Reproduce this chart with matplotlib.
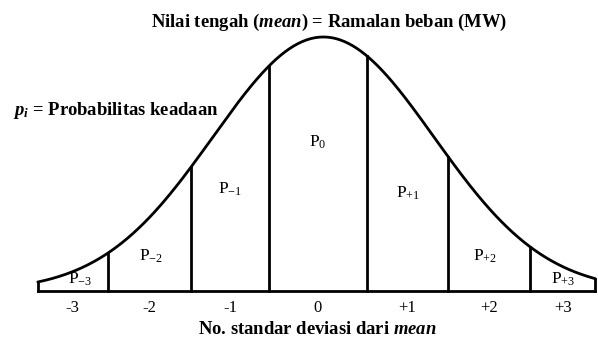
"""Normal distribution diagram: load forecast split into sigma bands."""

import matplotlib

matplotlib.use("Agg")

import matplotlib.pyplot as plt
import numpy as np

# band edges along the x axis (in standard deviations, as drawn)
band_edges = [-3.32, -2.5, -1.52, -0.6, 0.55, 1.51, 2.47, 3.24]
tick_labels = ["-3", "-2", "-1", "0", "+1", "+2", "+3"]
band_names = ["P$_{-3}$", "P$_{-2}$", "P$_{-1}$", "P$_{0}$", "P$_{+1}$", "P$_{+2}$", "P$_{+3}$"]
curve_mean = 0.04
curve_sigma = 1.3

# layout only: label nudges (x, in sigma) and heights (fraction of peak)
label_shift = [0.09, 0.02, 0.0, 0.0, 0.0, -0.05, 0.0]
label_heights = [0.047, 0.138, 0.40, 0.587, 0.386, 0.138, 0.047]

plt.rcParams["font.family"] = ["Liberation Serif", "DejaVu Serif"]
plt.rcParams["mathtext.fontset"] = "custom"
plt.rcParams["mathtext.rm"] = "Liberation Serif"
plt.rcParams["mathtext.it"] = "Liberation Serif:italic:bold"
plt.rcParams["mathtext.bf"] = "Liberation Serif:bold"


def density(x):
    return np.exp(-((np.asarray(x) - curve_mean) ** 2) / (2 * curve_sigma**2))


fig = plt.figure(figsize=(5.98, 3.47), dpi=100)
ax = fig.add_axes([0.0, (347 - 291) / 347, 1.0, (291 - 37) / 347])
ax.set_xlim(-320 / 85, 278 / 85)
ax.set_ylim(0, 1)

lw = 2.0
xs = np.linspace(band_edges[0], band_edges[-1], 400)
ax.plot(xs, density(xs), color="black", lw=lw, clip_on=False, solid_capstyle="round")
ax.plot([band_edges[0], band_edges[-1]], [0, 0], color="black", lw=lw, clip_on=False)
for edge in band_edges:
    ax.plot([edge, edge], [0, density(edge)], color="black", lw=lw, clip_on=False)

mids = [(a + b) / 2 for a, b in zip(band_edges[:-1], band_edges[1:])]
for mid, name, dx, h in zip(mids, band_names, label_shift, label_heights):
    ax.text(mid + dx, h, name, ha="center", va="center", fontsize=12.5)

ax.set_xticks(mids, tick_labels, fontsize=12)
ax.tick_params(axis="x", length=0, pad=6.5)
ax.set_yticks([])
for spine in ax.spines.values():
    spine.set_visible(False)

ax.set_xlabel("No. standar deviasi dari $\\mathit{mean}$", fontsize=13.4,
              fontweight="bold", va="center")
ax.xaxis.set_label_coords(0.53, (291 - 330) / 254)

ax.set_title("Nilai tengah ($\\mathit{mean}$) = Ramalan beban (MW)", fontsize=13.4,
             fontweight="bold", x=0.55, pad=7)

ax.text(-3.61, (291 - 110) / 254, "$p_i$ = Probabilitas keadaan", fontsize=13.4,
        fontweight="bold", ha="left", va="center")

fig.savefig("out.png", dpi=100)
